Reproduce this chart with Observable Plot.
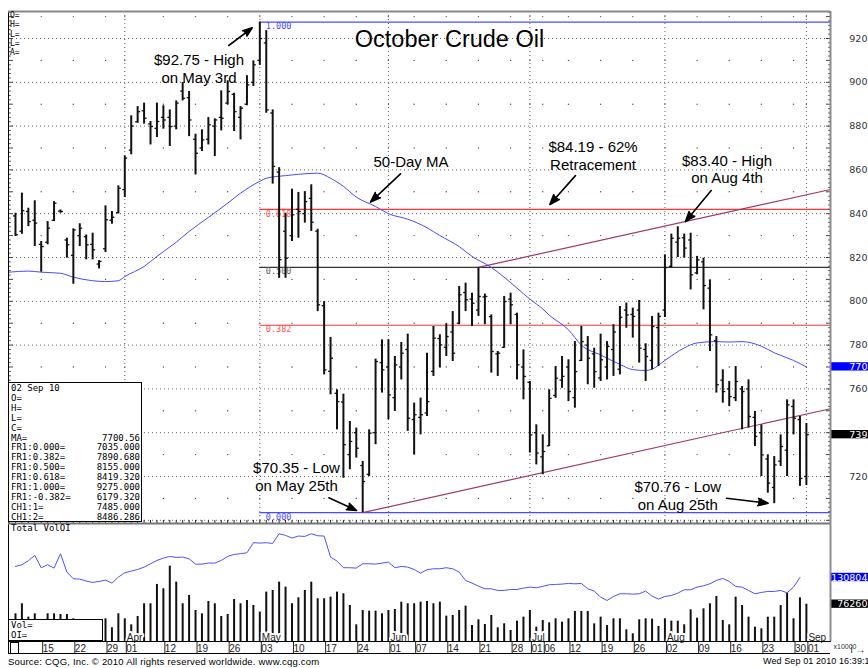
<!DOCTYPE html>
<html><head><meta charset="utf-8">
<script src="https://cdn.jsdelivr.net/npm/d3@7"></script>
<script src="https://cdn.jsdelivr.net/npm/@observablehq/plot@0.6"></script>
<style>
body{margin:0;background:#fff;}
#wrap{position:relative;width:868px;height:668px;overflow:hidden;background:#fff;}
#wrap svg{position:absolute;left:0;}
.abs{position:absolute;}
.mono{font-family:"DejaVu Sans Mono","Liberation Mono",monospace;color:#000;white-space:pre;}
g[aria-label="arrow"] path{fill:#000;}
#databox{left:8px;top:382px;width:134px;height:140px;border:1px solid #000;background:#fff;font-size:9px;line-height:9.9px;padding:1px 0 0 2px;box-sizing:border-box;}
#databox .row{display:flex;justify-content:space-between;padding-right:1px;}
#ohlc{left:10px;top:11px;font-size:8px;line-height:9.25px;}
#vollab{left:11px;top:523px;font-size:9px;line-height:10px;}
#volbox{left:8px;top:619px;width:95px;height:22px;border:1px solid #000;background:#fff;box-sizing:border-box;font-size:9px;line-height:10px;padding-left:2px;}
#daterow{left:8px;top:641px;width:822px;height:13px;border-bottom:1px solid #000;border-left:1px solid #000;box-sizing:border-box;}
#sq{left:10px;top:642px;width:9px;height:12px;border:1px solid #000;box-sizing:border-box;}
#cap1{left:8px;top:656px;font-family:"Liberation Sans",Arial,sans-serif;font-size:9.5px;letter-spacing:0.2px;line-height:11px;color:#000;white-space:nowrap;}
#cap2{left:763px;top:656px;font-family:"Liberation Sans",Arial,sans-serif;font-size:9px;letter-spacing:0.1px;line-height:11px;color:#000;white-space:nowrap;}
</style></head><body><div id="wrap"></div><script>
// ---------------- data ----------------
const dates = ["03-08","03-09","03-10","03-11","03-12","03-15","03-16","03-17","03-18","03-19","03-22","03-23","03-24","03-25","03-26","03-29","03-30","03-31","04-01","04-05","04-06","04-07","04-08","04-09","04-12","04-13","04-14","04-15","04-16","04-19","04-20","04-21","04-22","04-23","04-26","04-27","04-28","04-29","04-30","05-03","05-04","05-05","05-06","05-07","05-10","05-11","05-12","05-13","05-14","05-17","05-18","05-19","05-20","05-21","05-24","05-25","05-26","05-27","05-28","06-01","06-02","06-03","06-04","06-07","06-08","06-09","06-10","06-11","06-14","06-15","06-16","06-17","06-18","06-21","06-22","06-23","06-24","06-25","06-28","06-29","06-30","07-01","07-02","07-06","07-07","07-08","07-09","07-12","07-13","07-14","07-15","07-16","07-19","07-20","07-21","07-22","07-23","07-26","07-27","07-28","07-29","07-30","08-02","08-03","08-04","08-05","08-06","08-09","08-10","08-11","08-12","08-13","08-16","08-17","08-18","08-19","08-20","08-23","08-24","08-25","08-26","08-27","08-30","08-31","09-01"];
const open = [null,8390,8320,8410,8370,8260,8270,8370,8412,8280,8210,8300,8295,8260,8170,8240,8370,8405,8510,8690,8820,8870,8810,8790,8840,8840,8800,8960,8930,8740,8700,8740,8800,8840,8905,8945,8840,8900,9000,9100,9180,8860,8590,8320,8300,8420,8400,8470,8320,7980,7680,7580,7540,7300,7400,7250,7210,7400,7720,7700,7560,7700,7780,7460,7470,7490,7680,7830,7790,7860,7900,8040,8010,7960,8020,7930,7760,7790,8010,7940,7700,7630,7400,7290,7340,7570,7640,7700,7560,7730,7800,7760,7650,7700,7780,7690,7960,7940,7960,7780,7730,7880,7960,8160,8270,8290,8280,8130,8180,8060,7820,7640,7600,7560,7600,7600,7470,7400,7280,7150,7270,7320,7520,7460,7200];
const high = [null,8402,8494,8425,8459,8273,8364,8455,8417,8288,8331,8354,8303,8311,8186,8436,8410,8527,8664,8847,8889,8905,8821,8905,8893,8874,8915,8999,8958,8763,8783,8839,8833,8961,9007,8950,8889,9030,9098,9275,9236,8874,8610,8402,8512,8497,8501,8532,8329,7999,7835,7596,7576,7451,7421,7269,7413,7736,7824,7824,7748,7812,7850,7535,7558,7763,7885,7847,7897,7953,8068,8083,8037,8154,8033,7938,7771,8022,8037,7946,7778,7634,7436,7390,7596,7702,7748,7733,7816,7885,7839,7786,7850,7816,7893,7976,7992,7969,8004,7806,7931,7946,8212,8307,8340,8307,8311,8205,8197,8098,7839,7687,7634,7702,7611,7641,7497,7436,7299,7291,7390,7550,7550,7474,7442];
const low = [null,8296,8306,8341,8250,8133,8258,8364,8402,8197,8078,8250,8189,8189,8148,8223,8352,8399,8474,8669,8813,8809,8714,8748,8786,8707,8783,8915,8752,8577,8684,8714,8661,8778,8897,8775,8737,8893,8981,9077,8859,8535,8105,8105,8273,8288,8357,8319,7953,7664,7573,7413,7192,7231,7284,7035,7200,7345,7581,7459,7497,7641,7406,7299,7390,7474,7657,7695,7748,7725,7893,7953,7885,7931,7893,7672,7657,7786,7893,7641,7550,7307,7253,7208,7337,7557,7603,7542,7512,7725,7619,7603,7634,7641,7657,7664,7877,7832,7718,7634,7687,7702,7926,8151,8200,8197,8052,8121,7961,7771,7581,7535,7519,7542,7413,7421,7337,7200,7124,7076,7246,7200,7390,7155,7159];
const close = [null,8304,8414,8364,8357,8250,8334,8448,8410,8258,8326,8334,8258,8235,8182,8372,8384,8516,8654,8800,8866,8836,8798,8821,8828,8798,8905,8927,8828,8676,8737,8806,8828,8836,8958,8866,8882,8988,9080,9200,8874,8616,8190,8197,8395,8410,8455,8361,7984,7687,7740,7542,7345,7360,7329,7177,7398,7725,7687,7573,7710,7763,7466,7482,7482,7542,7832,7801,7839,7763,8030,8007,7991,8022,8022,7771,7763,7999,7984,7710,7657,7390,7307,7314,7557,7649,7657,7588,7679,7816,7740,7679,7733,7794,7860,7927,7938,7931,7786,7748,7885,7931,8154,8288,8288,8243,8121,8189,8072,7847,7619,7588,7565,7634,7588,7474,7383,7299,7170,7253,7337,7527,7466,7191,7391];
const maDates = ["03-08","03-11","03-15","03-18","03-22","03-25","03-29","03-31","04-01","04-07","04-09","04-14","04-16","04-21","04-26","04-28","05-03","05-04","05-07","05-11","05-14","05-18","05-20","05-24","05-27","06-01","06-04","06-09","06-11","06-16","06-18","06-23","06-25","06-29","07-01","07-06","07-07","07-12","07-14","07-19","07-22","07-26","07-28","07-29","08-02","08-05","08-09","08-12","08-16","08-18","08-23","08-25","08-30","09-01"];
const maValues = [8133,8138,8133,8128,8110,8094,8090,8094,8113,8159,8205,8270,8319,8383,8448,8494,8548,8562,8574,8580,8585,8562,8525,8476,8433,8400,8375,8336,8300,8250,8205,8155,8110,8060,8010,7965,7937,7870,7800,7755,7712,7688,7684,7690,7730,7787,7810,7816,7814,7816,7795,7765,7730,7700.56];
const volume = [null,566000,771000,498000,566000,430000,566000,566000,552000,552000,464000,350000,300000,380000,320000,464000,280000,566000,464000,341000,511000,771000,771000,1166000,1077000,1540000,1213000,771000,941000,634000,566000,818000,771000,511000,552000,859000,771000,838000,736000,600000,1009000,1043000,1213000,1111000,771000,893000,1043000,1213000,873000,873000,907000,1009000,975000,736000,341000,634000,620000,620000,566000,634000,654000,804000,771000,771000,804000,818000,771000,804000,518000,532000,634000,723000,327000,443000,348000,532000,280000,361000,225000,416000,498000,634000,293000,430000,382000,464000,395000,464000,614000,614000,614000,361000,498000,327000,464000,464000,239000,157000,443000,464000,457000,307000,464000,416000,416000,341000,648000,477000,668000,771000,920000,430000,341000,907000,736000,498000,293000,259000,498000,498000,736000,988000,464000,893000,762607];
const openInterest = [null,1534000,1568000,1650000,1759000,1507000,1568000,1500000,1793000,1418000,1282000,1275000,1234000,1207000,1227000,1254000,1193000,1316000,1404000,1438000,1472000,1520000,1588000,1656000,1704000,1738000,1718000,1725000,1690000,1581000,1581000,1602000,1602000,1656000,1738000,1779000,1793000,1813000,2018000,2011000,2018000,2004000,2202000,2168000,2113000,2154000,2147000,2202000,2161000,2154000,1725000,1643000,1507000,1507000,1500000,1588000,1588000,1581000,1602000,1622000,1507000,1534000,1520000,1472000,1397000,1466000,1486000,1486000,1507000,1486000,1418000,1248000,1193000,1132000,1077000,1077000,1043000,1043000,1063000,1063000,1091000,1111000,1098000,1125000,1159000,1166000,1173000,1186000,1179000,1186000,1077000,1030000,907000,838000,920000,975000,975000,968000,975000,1030000,927000,866000,920000,941000,988000,1057000,1057000,1111000,1139000,1179000,1248000,1288000,1227000,1125000,1111000,1043000,975000,1002000,1023000,1023000,1043000,995000,1111000,1308042];
const tickDates = ["03-15","03-22","03-29","04-01","04-12","04-19","04-26","05-03","05-10","05-17","05-24","06-01","06-07","06-14","06-21","06-28","07-01","07-06","07-12","07-19","07-26","08-02","08-09","08-16","08-23","08-30","09-01"];
const tickLabels = ["15","22","29","01","12","19","26","03","10","17","24","01","07","14","21","28","01","06","12","19","26","02","09","16","23","30","01"];
const monthDates = ["04-01","05-03","06-01","07-01","08-02","09-01"];
const monthLabels = ["Apr","May","Jun","Jul","Aug","Sep"];
const priceTicks = [7200,7600,7800,8000,8200,8400,8600,8800,9000,9200];
const fibRatios = ["0.000","0.382","0.500","0.618","1.000","-0.382"];
const fibValues = [7035, 7890.68, 8155, 8419.32, 9275, 6179.32];
const fibStartDate = "05-03";
const channelLower = {date:"05-25", start:7035, end:7485.000};   // CH1:1 at last date
const channelUpper = {date:"06-21", start:8155, end:8486.286};   // CH1:2 at last date
const lastDate = "09-01";
const boxDate = "02 Sep 10";
const notesText = ["$92.75 - High\non May 3rd","50-Day MA","$84.19 - 62%\nRetracement","$83.40 - High\non Aug 4th","$70.35 - Low\non May 25th","$70.76 - Low\non Aug 25th"];
// ---------------- layout (data coords) ----------------
const notesPos = [[29.54,9136],[62.51,8669],[90.82,8741],[111.66,8678],[44.70,7274],[104.0,7185]];
const arrowPos = [[34.17,9168,37.81,9249],[60.88,8582,56.21,8453],[88.09,8574,84.1,8442],[109.2,8506,105.2,8364],[49.73,7103,54.04,7045],[111.58,7101,118.06,7078]];

const idx = new Map(dates.map((d,i)=>[d,i]));
const xDomain = [-0.0855, 127.75];
const xMax = xDomain[1];
const yDomain = [6985.4, 9323.3];
const bars = dates.map((d,i)=>({i,o:open[i],h:high[i],l:low[i],c:close[i]})).filter(d=>d.h!=null);
const ma = maDates.map((d,k)=>({i:idx.get(d), v:maValues[k]}));
const fib = fibRatios.map((r,k)=>({r, v:fibValues[k]})).filter(d=>d.v>=yDomain[0] && d.v<=yDomain[1]);
const fibColor = r => (r==="1.000"||r==="0.000") ? "#4a4aff" : (r==="0.500" ? "#333" : "#ff3434");
const fibText = r => (r==="1.000"||r==="0.000") ? "#4a4aff" : (r==="0.500" ? "#666" : "#ff5555");
const fibStart = idx.get(fibStartDate);
const lastI = idx.get(lastDate);
function channel(c){
  const i0 = idx.get(c.date), slope = (c.end-c.start)/(lastI-i0);
  return [{i:i0, v:c.start}, {i:xMax, v:c.start + slope*(xMax-i0)}];
}
const weekI = tickDates.map(d=>idx.get(d));
const monthI = monthDates.map(d=>idx.get(d));
const sparse = [];
for (const w of weekI) for (let v=7100; v<=9300; v+=200) sparse.push({i:w, v});
const denseRows = d3.range(7000, 9201, 200);
const minorTicks = d3.range(7000, 9321, 20);
const valueBoxes = [{v:maValues[maValues.length-1], t:String(Math.round(maValues[maValues.length-1])), fill:"#0000ff"},
                    {v:close[lastI], t:String(close[lastI]), fill:"#000"}];
const notes = notesText.map((t,k)=>({t, i:notesPos[k][0], v:notesPos[k][1]}));
const arrows = arrowPos.map(a=>({x1:a[0],y1:a[1],x2:a[2],y2:a[3]}));
const sans = "Liberation Sans, Arial, sans-serif";
const mono = "DejaVu Sans Mono, monospace";

const price = Plot.plot({
  width: 868, height: 523, marginTop: 11, marginRight: 38, marginBottom: 0, marginLeft: 8,
  x: {domain: xDomain, axis: null},
  y: {domain: yDomain, axis: null},
  style: {background: "transparent", overflow: "visible"},
  marks: [
    Plot.ruleY(denseRows, {stroke:"#666", strokeDasharray:"1,3"}),
    Plot.dot(sparse, {x:"i", y:"v", r:0.7, fill:"#555", stroke:null}),
    Plot.ruleX(monthI, {stroke:"#666", strokeDasharray:"1,3"}),
    Plot.ruleY(fib, {y:"v", x1:fibStart, x2:xMax, stroke:d=>fibColor(d.r), strokeWidth:1.2}),
    Plot.text(fib, {x:fibStart, y:"v", text:"r", dx:6, dy:1, textAnchor:"start", lineAnchor:"top", fill:d=>fibText(d.r), fontSize:8.5, fontFamily:mono}),
    Plot.line(channel(channelLower), {x:"i", y:"v", stroke:"#9c3a6a", strokeWidth:1.2}),
    Plot.line(channel(channelUpper), {x:"i", y:"v", stroke:"#9c3a6a", strokeWidth:1.2}),
    Plot.line(ma, {x:"i", y:"v", stroke:"#4a4aff", strokeWidth:1, curve:"monotone-x"}),
    Plot.ruleX(bars, {x:"i", y1:"l", y2:"h", stroke:"#111", strokeWidth:2}),
    Plot.link(bars, {x1:d=>d.i-0.38, x2:d=>d.i, y1:"o", y2:"o", stroke:"#111", strokeWidth:1.3}),
    Plot.link(bars, {x1:d=>d.i, x2:d=>d.i+0.38, y1:"c", y2:"c", stroke:"#111", strokeWidth:1.3}),
    Plot.ruleX(dates.map((d,i)=>i), {y1:yDomain[0], y2:yDomain[0]+14, stroke:"#222"}),
    Plot.link(minorTicks, {x1:d=>xMax-(d%100===0?0.7:0.35), x2:xMax, y1:d=>d, y2:d=>d, stroke:"#444"}),
    Plot.link(minorTicks, {x1:xDomain[0], x2:d=>xDomain[0]+(d%100===0?0.7:0.35), y1:d=>d, y2:d=>d, stroke:"#444"}),
    Plot.text(priceTicks, {x:xMax, y:d=>d, text:d=>String(d), dx:43, textAnchor:"end", fill:"#333", fontSize:9.5, fontFamily:"DejaVu Sans, sans-serif"}),
    Plot.rect(valueBoxes, {x1:xMax+0.1, x2:xMax+7, y1:d=>d.v-19, y2:d=>d.v+19, fill:"fill"}),
    Plot.text(valueBoxes, {x:xMax, y:"v", text:"t", dx:43, textAnchor:"end", fill:"#fff", fontSize:9.5, fontFamily:"DejaVu Sans, sans-serif"}),
    Plot.text(notes, {x:"i", y:"v", text:"t", textAnchor:"middle", lineAnchor:"top", fontSize:15, lineHeight:1.19, fill:"#000", fontFamily:sans}),
    Plot.arrow(arrows, {x1:"x1", y1:"y1", x2:"x2", y2:"y2", stroke:"#000", strokeWidth:1.6, headLength:10, headAngle:40}),
    Plot.text(["October Crude Oil"], {frameAnchor:"top", dx:30, dy:35, lineAnchor:"bottom", fontSize:23.5, fill:"#000", fontFamily:sans}),
    Plot.frame({stroke:"#000", strokeWidth:1}),
    Plot.ruleY([yDomain[1]], {stroke:"#888", strokeWidth:2}),
    Plot.ruleX([xMax], {stroke:"#8c8c8c", strokeWidth:2})
  ]
});

const volDomain = [0, 2411000];
const volBars = dates.map((d,i)=>({i, v:volume[i]})).filter(d=>d.v!=null);
const oi = dates.map((d,i)=>({i, v:openInterest[i]})).filter(d=>d.v!=null);
const months = monthDates.map((d,k)=>({i:idx.get(d), t:monthLabels[k]}));
const tickMap = new Map(tickDates.map((d,k)=>[idx.get(d), tickLabels[k]]));
const volBoxes = [{v:openInterest[lastI-1], t:String(openInterest[lastI-1]), fill:"#0000ff"},
                  {v:volume[lastI], t:String(volume[lastI]), fill:"#000"}];

const vol = Plot.plot({
  width: 868, height: 132, marginTop: 0, marginRight: 38, marginBottom: 14, marginLeft: 8,
  x: {domain: xDomain, axis: null},
  y: {domain: volDomain, axis: null},
  style: {background: "transparent", overflow: "visible"},
  marks: [
    Plot.ruleX(volBars, {x:"i", y1:0, y2:"v", stroke:"#111", strokeWidth:2}),
    Plot.line(oi, {x:"i", y:"v", stroke:"#5050ff", strokeWidth:1}),
    Plot.text(months, {x:"i", y:0, text:"t", dx:2, dy:-1, textAnchor:"start", lineAnchor:"bottom", fontSize:10, fill:"#222", stroke:"#fff", strokeWidth:4, fontFamily:sans}),
    Plot.ruleX(months, {x:"i", y1:0, y2:165000, stroke:"#222"}),
    Plot.axisX({ticks: weekI, tickFormat: d=>tickMap.get(d), tickSize:13, tickPadding:-10, textAnchor:"start", dx:1.5, fontSize:10, fill:"#222", stroke:"#222", fontFamily:sans}),
    Plot.text(["x10000"], {x:xMax, y:0, dx:3, dy:5, textAnchor:"start", lineAnchor:"middle", fontSize:7, fill:"#333", fontFamily:sans}),
    Plot.rect(volBoxes, {x1:xMax+0.1, x2:xMax+7, y1:d=>d.v-85000, y2:d=>d.v+85000, fill:"fill"}),
    Plot.text(volBoxes, {x:xMax, y:"v", text:"t", dx:43, textAnchor:"end", fill:"#fff", fontSize:9.5, fontFamily:"DejaVu Sans, sans-serif"}),
    Plot.frame({stroke:"#000"}),
    Plot.ruleY([volDomain[1]], {stroke:"#777", strokeWidth:2}),
    Plot.ruleX([xMax], {stroke:"#8c8c8c", strokeWidth:2})
  ]
});

const wrap = document.getElementById("wrap");
price.style.top = "0px";
vol.style.top = "523px";
wrap.appendChild(price);
wrap.appendChild(vol);

function div(id, cls, html){ const e=document.createElement("div"); e.id=id; e.className=cls; e.innerHTML=html; wrap.appendChild(e); return e; }
div("ohlc","abs mono","O=\nH=\nL=\nL=\nA=");
const rows = [[boxDate,""],["O=",""],["H=",""],["L=",""],["C=",""],["MA=", maValues[maValues.length-1].toFixed(2)]]
  .concat(fibRatios.map((r,k)=>["FR1:"+r+"=", fibValues[k].toFixed(3)]))
  .concat([["CH1:1=", channelLower.end.toFixed(3)],["CH1:2=", channelUpper.end.toFixed(3)]]);
div("databox","abs mono", rows.map(r=>`<div class="row"><span>${r[0]}</span><span>${r[1]}</span></div>`).join(""));
div("vollab","abs mono","Total VolOI");
div("volbox","abs mono","Vol=\nOI=");
div("daterow","abs","");
div("sq","abs","");
div("cap1","abs","Source: CQG, Inc. © 2010 All rights reserved worldwide. www.cqg.com");
div("cap2","abs","Wed Sep 01 2010 16:39:15");
</script></body></html>
